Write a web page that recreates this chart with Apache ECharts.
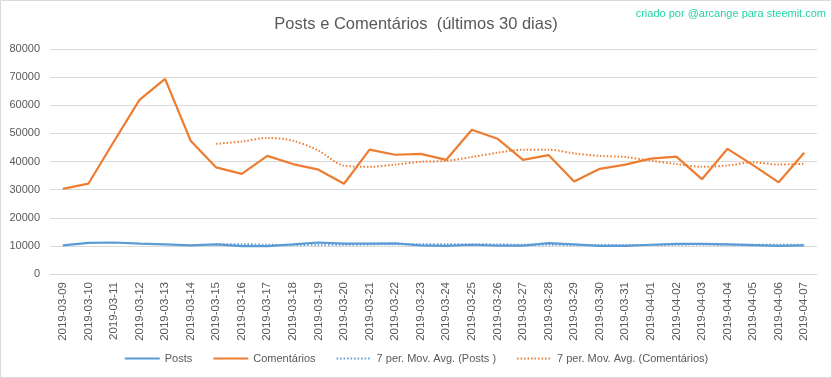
<!DOCTYPE html>
<html><head><meta charset="utf-8">
<script src="https://cdn.jsdelivr.net/npm/echarts@6/dist/echarts.min.js"></script>
<style>html,body{margin:0;padding:0;background:#fff}#c{width:832px;height:378px}</style>
</head><body><div id="c"></div>
<script>
const categories = ['2019-03-09','2019-03-10','2019-03-11','2019-03-12','2019-03-13','2019-03-14','2019-03-15','2019-03-16','2019-03-17','2019-03-18','2019-03-19','2019-03-20','2019-03-21','2019-03-22','2019-03-23','2019-03-24','2019-03-25','2019-03-26','2019-03-27','2019-03-28','2019-03-29','2019-03-30','2019-03-31','2019-04-01','2019-04-02','2019-04-03','2019-04-04','2019-04-05','2019-04-06','2019-04-07'];
const posts = [10200,11100,11200,10800,10500,10200,10500,9900,9900,10500,11200,10800,10800,10900,10200,10000,10400,10100,10100,11000,10500,10000,10000,10400,10700,10700,10500,10300,10000,10200];
const comentarios = [30300,32100,47100,61900,69400,47400,37900,35600,42000,39100,37100,32100,44200,42400,42700,40600,51300,48100,40600,42300,32900,37400,38900,41000,41700,33700,44500,38700,32600,43100];
const maPosts = [null,null,null,null,null,null,10600,10600,10400,10300,10400,10400,10500,10600,10600,10600,10600,10500,10400,10400,10300,10300,10300,10300,10400,10500,10400,10400,10400,10400];
const maComentarios = [null,null,null,null,null,null,46300,47100,48400,47400,43900,38500,38100,38900,39900,40200,41600,43100,44200,44200,42900,42000,41600,40300,39100,38100,38600,39700,38900,39200];
const yTicks = [0,10000,20000,30000,40000,50000,60000,70000,80000];

const FONT = '"Liberation Sans", Arial, sans-serif';
const chart = echarts.init(document.getElementById('c'), null, {renderer:'canvas'});
chart.setOption({
  animation:false,
  textStyle:{fontFamily:FONT},
  title:{text:'Posts e Comentários  (últimos 30 dias)', left:'center', top:11,
    textStyle:{fontFamily:FONT, fontSize:16.5, fontWeight:'normal', color:'#595959'}},
  graphic:[
    {type:'rect', shape:{x:0.5,y:0.5,width:831,height:377}, style:{fill:'none', stroke:'#d9d9d9', lineWidth:1}, silent:true},
    {type:'text', right:6, top:8, style:{text:'criado por @arcange para steemit.com', fill:'#22d3a6', font:'11px '+FONT}}
  ],
  grid:{left:50, right:15, top:49, bottom:104, containLabel:false},
  legend:{bottom:9, left:'center', itemWidth:35, itemHeight:10, itemGap:20,
    itemStyle:{opacity:0},
    textStyle:{fontFamily:FONT, fontSize:11, color:'#595959'},
    data:['Posts','Comentários','7 per. Mov. Avg. (Posts )','7 per. Mov. Avg. (Comentários)']},
  xAxis:{type:'category', data:categories, boundaryGap:true,
    axisLine:{show:true, lineStyle:{color:'#d9d9d9'}}, axisTick:{show:false},
    axisLabel:{rotate:90, interval:0, fontSize:11.5, color:'#595959', margin:8, fontFamily:FONT}},
  yAxis:{type:'value', min:yTicks[0], max:yTicks[yTicks.length-1], interval:10000,
    axisLine:{show:false}, axisTick:{show:false},
    axisLabel:{fontSize:11, color:'#595959', margin:10, fontFamily:FONT, formatter:(v)=>String(v)},
    splitLine:{lineStyle:{color:'#d9d9d9'}}},
  series:[
    {name:'Posts', type:'line', data:posts, symbol:'none', lineStyle:{color:'#5b9bd5', width:2.25}, itemStyle:{color:'#5b9bd5'}, z:3},
    {name:'Comentários', type:'line', data:comentarios, symbol:'none', lineStyle:{color:'#ed7d31', width:2.25}, itemStyle:{color:'#ed7d31'}, z:3},
    {name:'7 per. Mov. Avg. (Posts )', type:'line', data:maPosts, symbol:'none', smooth:0.3, lineStyle:{color:'#5b9bd5', width:2, type:[1.5,2]}, itemStyle:{color:'#5b9bd5'}, z:4},
    {name:'7 per. Mov. Avg. (Comentários)', type:'line', data:maComentarios, symbol:'none', smooth:0.3, lineStyle:{color:'#ed7d31', width:2, type:[1.5,2]}, itemStyle:{color:'#ed7d31'}, z:4}
  ]
});
</script></body></html>
